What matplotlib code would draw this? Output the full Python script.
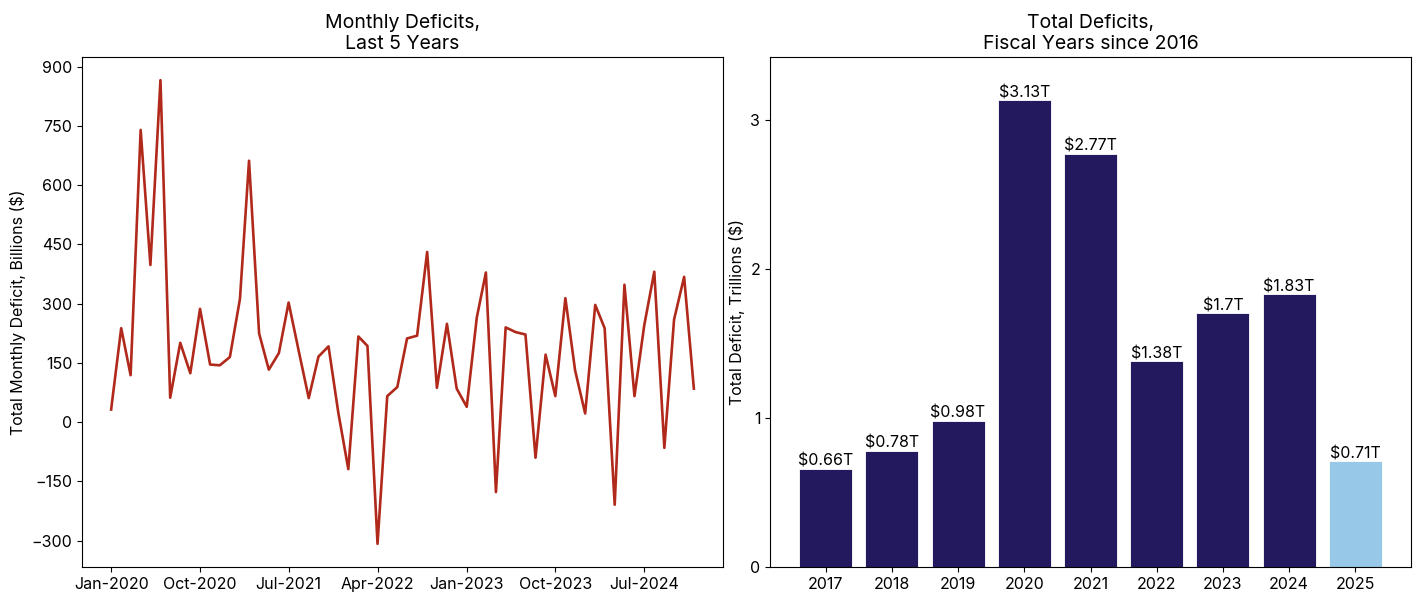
import matplotlib
matplotlib.use("Agg")
import matplotlib.pyplot as plt
import matplotlib.dates as mdates
import numpy as np
import pandas as pd

plt.rcParams['font.family'] = ['Inter', 'DejaVu Sans']

months = pd.date_range("2020-01-01", periods=60, freq="MS")
monthly_deficit = [
    32, 238, 119, 740, 398, 866, 62, 201, 124, 287, 146, 144,
    165, 312, 662, 225, 133, 175, 303, 181, 61, 166, 192, 25,
    -119, 217, 193, -308, 66, 89, 212, 219, 431, 87, 249, 85,
    39, 265, 379, -177, 240, 228, 222, -90, 171, 66, 314, 131,
    22, 297, 238, -209, 348, 66, 245, 381, -65, 260, 368, 85,
]

fiscal_years = [2017, 2018, 2019, 2020, 2021, 2022, 2023, 2024, 2025]
total_deficit = [0.66, 0.78, 0.98, 3.13, 2.77, 1.38, 1.70, 1.83, 0.71]
bar_labels = ["$0.66T", "$0.78T", "$0.98T", "$3.13T", "$2.77T", "$1.38T", "$1.7T", "$1.83T", "$0.71T"]

navy = "#22195E"
light = "#97C8E7"
red = "#B0291B"

fig = plt.figure(figsize=(14.18, 5.97), dpi=100)
ax1 = fig.add_axes([82/1418, 1-567/597, (723-82)/1418, (567-57)/597])
ax2 = fig.add_axes([770/1418, 1-567/597, (1411-770)/1418, (567-57)/597])

ax1.plot(months, monthly_deficit, color=red, linewidth=1.9)
ax1.set_title("Monthly Deficits,\nLast 5 Years", fontsize=14)
ax1.set_ylabel("Total Monthly Deficit, Billions ($)", fontsize=11.5)
ax1.set_yticks([-300, -150, 0, 150, 300, 450, 600, 750, 900])
tick_dates = pd.date_range("2020-01-01", "2024-07-01", freq="9MS")
ax1.set_xticks(tick_dates)
ax1.xaxis.set_major_formatter(mdates.DateFormatter("%b-%Y"))
ax1.tick_params(labelsize=11.5)

colors = [navy] * (len(fiscal_years) - 1) + [light]
bars = ax2.bar(fiscal_years, total_deficit, width=0.8, color=colors,
               edgecolor="white", linewidth=0.6)
for b, lab in zip(bars, bar_labels):
    ax2.text(b.get_x() + b.get_width()/2, b.get_height(), lab,
             ha="center", va="bottom", fontsize=11.5)
ax2.set_xticks(fiscal_years)
ax2.set_yticks([0, 1, 2, 3])
ax2.set_ylim(0, 3.42)
ax2.set_title("Total Deficits,\nFiscal Years since 2016", fontsize=14)
ax2.set_ylabel("Total Deficit, Trillions ($)", fontsize=11.5)
ax2.tick_params(labelsize=11.5)

fig.savefig("out.png", dpi=100)
